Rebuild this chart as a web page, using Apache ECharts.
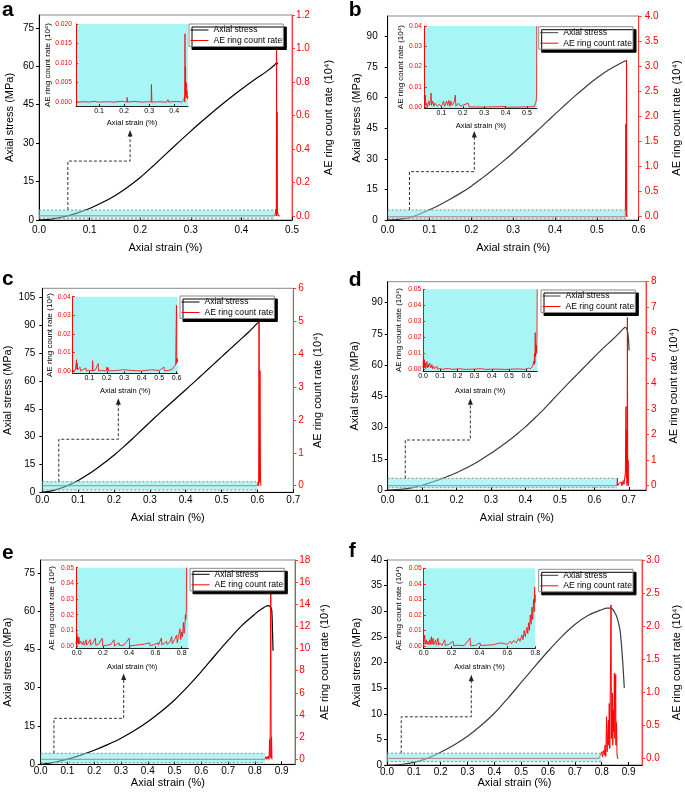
<!DOCTYPE html>
<html><head><meta charset="utf-8">
<script src="https://cdn.jsdelivr.net/npm/echarts@6/dist/echarts.min.js"></script>
<style>html,body{margin:0;padding:0;background:#fff}#c{width:685px;height:800px}</style>
</head><body><div id="c"></div>
<script>
// ---------------- DATA ----------------
// Panel a
const stressA = [[0,0],[0.025,0.4],[0.05,1.3],[0.075,2.7],[0.1,4.5],[0.125,6.8],[0.15,9.5],[0.175,12.8],[0.2,16.6],[0.225,21.0],[0.25,25.6],[0.275,30.2],[0.3,34.7],[0.325,39.0],[0.35,43.2],[0.375,47.2],[0.4,51.0],[0.425,54.6],[0.45,58.0],[0.465,60.4],[0.47,61.4],[0.472,60.8]];
const aeA = [[0,0],[0.2,0],[0.4,0],[0.466,0],[0.4685,0.04],[0.469,0],[0.4695,1.1],[0.47,0],[0.4705,0.62],[0.471,0.03],[0.473,0],[0.476,0]];
const insetA = [[0.008,0.0002],[0.02,0],[0.04,0.0001],[0.06,0],[0.08,0.0002],[0.1,0],[0.101,0.0004],[0.103,0],[0.13,0.0001],[0.16,0],[0.19,0.0002],[0.211,0],[0.212,0.0012],[0.214,0],[0.24,0.0002],[0.27,0],[0.29,0.0001],[0.308,0],[0.309,0.0045],[0.311,0],[0.34,0.0001],[0.37,0],[0.375,0.0006],[0.378,0],[0.41,0.0002],[0.43,0],[0.438,0.0005],[0.441,0.0012],[0.442,0],[0.443,0.0175],[0.4435,0.001],[0.445,0.009],[0.446,0.002],[0.448,0.005],[0.449,0.0012],[0.451,0.003],[0.453,0.0008],[0.455,0.0015]];
const strainTicksA = [0,0.1,0.2,0.3,0.4,0.5];
const stressTicksA = [0,15,30,45,60,75];
const aeTicksA = [0,0.2,0.4,0.6,0.8,1.0,1.2];
const insetStrainTicksA = [0.1,0.2,0.3,0.4];
const insetAeTicksA = [0,0.005,0.01,0.015,0.02];

// Panel b
const stressB = [[0,0],[0.025,0.3],[0.05,1.1],[0.075,2.8],[0.1,5.0],[0.125,7.5],[0.15,10.3],[0.175,13.3],[0.2,16.6],[0.225,20.4],[0.25,24.4],[0.275,28.6],[0.3,33.0],[0.325,37.6],[0.35,42.3],[0.375,47.1],[0.4,51.9],[0.425,56.6],[0.45,61.2],[0.475,65.6],[0.5,69.6],[0.525,73.2],[0.55,76.1],[0.565,77.7],[0.572,78.3]];
const aeB = [[0,0],[0.3,0],[0.568,0],[0.5695,1.85],[0.570,0],[0.571,3.1],[0.5715,0.05],[0.573,0]];
const insetB = [[0.022,0],[0.025,0.006],[0.027,0.001],[0.03,0.002],[0.035,0],[0.04,0.003],[0.045,0.001],[0.05,0.0045],[0.052,0.007],[0.054,0.001],[0.06,0.003],[0.065,0.0005],[0.07,0.002],[0.08,0.0005],[0.09,0.0015],[0.1,0.0003],[0.11,0.003],[0.115,0.0005],[0.125,0.003],[0.13,0.001],[0.135,0.0035],[0.14,0.0005],[0.145,0.003],[0.15,0.001],[0.16,0.0025],[0.165,0.006],[0.168,0.0005],[0.18,0.002],[0.19,0.0005],[0.2,0.001],[0.225,0.002],[0.23,0.0002],[0.3,0.0001],[0.4,0.0004],[0.41,0],[0.5,0.0002],[0.535,0.0003],[0.54,0.002],[0.543,0.003],[0.545,0.0055],[0.546,0.04],[0.547,0.04]];
const strainTicksB = [0,0.1,0.2,0.3,0.4,0.5,0.6];
const stressTicksB = [0,15,30,45,60,75,90];
const aeTicksB = [0,0.5,1,1.5,2,2.5,3,3.5,4];
const insetStrainTicksB = [0.1,0.2,0.3,0.4,0.5];
const insetAeTicksB = [0,0.01,0.02,0.03,0.04];

// Panel c
const stressC = [[0,0],[0.025,0.8],[0.05,2.1],[0.075,4.0],[0.1,6.4],[0.125,9.3],[0.15,12.6],[0.175,16.2],[0.2,20.0],[0.225,24.2],[0.25,28.6],[0.275,33.2],[0.3,37.8],[0.325,42.3],[0.35,46.7],[0.375,51.0],[0.4,55.3],[0.425,59.7],[0.45,64.1],[0.475,68.6],[0.5,73.0],[0.525,77.5],[0.55,81.9],[0.575,86.3],[0.59,89.2],[0.6,91.2],[0.607,92.3]];
const aeC = [[0,0],[0.3,0],[0.6,0],[0.602,0.12],[0.6035,0],[0.6045,5.1],[0.6055,0.1],[0.607,3.5],[0.6085,0.2],[0.61,0]];
const insetC = [[0.005,0],[0.02,0.0005],[0.026,0],[0.027,0.006],[0.029,0.001],[0.031,0.004],[0.033,0.0005],[0.04,0.001],[0.047,0.002],[0.05,0],[0.06,0.0005],[0.081,0.0015],[0.083,0],[0.1,0.0003],[0.118,0],[0.119,0.0055],[0.121,0],[0.135,0.0005],[0.151,0.004],[0.153,0],[0.17,0.0002],[0.198,0],[0.2,0.002],[0.203,0.0003],[0.208,0.0018],[0.21,0],[0.25,0.0002],[0.295,0.0006],[0.3,0],[0.35,0.0002],[0.4,0],[0.457,0.0006],[0.46,0],[0.5,0.0002],[0.528,0.002],[0.53,0],[0.56,0.0004],[0.575,0.0008],[0.581,0.002],[0.585,0.001],[0.59,0.0025],[0.594,0.003],[0.597,0.002],[0.599,0.0355],[0.6,0.004],[0.602,0.007],[0.604,0.005],[0.606,0.006]];
const strainTicksC = [0,0.1,0.2,0.3,0.4,0.5,0.6,0.7];
const stressTicksC = [0,15,30,45,60,75,90,105];
const aeTicksC = [0,1,2,3,4,5,6];
const insetStrainTicksC = [0.1,0.2,0.3,0.4,0.5,0.6];
const insetAeTicksC = [0,0.01,0.02,0.03,0.04];

// Panel d
const stressD = [[0,0],[0.025,0.15],[0.05,0.55],[0.075,1.3],[0.1,2.3],[0.125,3.6],[0.15,5.0],[0.175,6.6],[0.2,8.3],[0.225,10.3],[0.25,12.5],[0.275,15.0],[0.3,17.6],[0.325,20.5],[0.35,23.5],[0.375,26.8],[0.4,30.3],[0.425,34.2],[0.45,38.2],[0.475,42.6],[0.5,47.0],[0.525,51.3],[0.55,55.5],[0.575,59.7],[0.6,63.9],[0.625,68.0],[0.65,71.8],[0.675,75.8],[0.685,77.6],[0.69,78.1],[0.695,77.0],[0.698,74.5],[0.7,70],[0.701,67]];
const aeD = [[0,0],[0.3,0],[0.665,0],[0.667,0.3],[0.668,0],[0.672,0.1],[0.675,0.05],[0.678,0.15],[0.68,0],[0.684,0.2],[0.686,0.05],[0.69,0.5],[0.692,3.1],[0.693,0.3],[0.694,2.2],[0.695,0],[0.696,6.6],[0.697,0.1],[0.698,1.0],[0.699,0],[0.701,0]];
const insetD = [[0,0.001],[0.003,0.0095],[0.005,0.002],[0.008,0.006],[0.01,0.001],[0.0135,0.004],[0.016,0.0005],[0.02,0.003],[0.023,0.005],[0.026,0.001],[0.03,0.003],[0.033,0.0015],[0.038,0.004],[0.043,0.005],[0.046,0.001],[0.052,0.003],[0.055,0.0005],[0.062,0.002],[0.066,0.0003],[0.075,0.0015],[0.081,0.002],[0.085,0],[0.1,0.0008],[0.11,0.002],[0.113,0],[0.13,0.0004],[0.149,0.0006],[0.17,0],[0.207,0.0004],[0.25,0],[0.3,0.0002],[0.34,0.0005],[0.36,0],[0.42,0.0002],[0.48,0],[0.555,0.0003],[0.59,0],[0.613,0.0008],[0.625,0.0005],[0.637,0.002],[0.64,0.001],[0.643,0.005],[0.646,0.003],[0.648,0.01],[0.65,0.004],[0.652,0.023],[0.654,0.008],[0.656,0.012],[0.658,0.015],[0.66,0.01],[0.662,0.02],[0.6635,0.05]];
const strainTicksD = [0,0.1,0.2,0.3,0.4,0.5,0.6,0.7];
const stressTicksD = [0,15,30,45,60,75,90];
const aeTicksD = [0,1,2,3,4,5,6,7,8];
const insetStrainTicksD = [0,0.1,0.2,0.3,0.4,0.5,0.6];
const insetAeTicksD = [0,0.01,0.02,0.03,0.04,0.05];

// Panel e
const stressE = [[0,0],[0.05,0.8],[0.1,2.0],[0.15,3.6],[0.2,5.5],[0.25,7.7],[0.3,10.2],[0.35,13.2],[0.4,16.7],[0.45,20.7],[0.5,25.2],[0.55,30.5],[0.6,36.3],[0.65,42.5],[0.7,48.5],[0.75,54.2],[0.8,58.8],[0.825,60.8],[0.848,62.1],[0.858,61.6],[0.863,60.5],[0.866,52],[0.868,44.5]];
const aeE = [[0,0],[0.4,0],[0.838,0],[0.842,0.25],[0.845,0],[0.85,0.3],[0.853,0],[0.855,1.8],[0.857,0.2],[0.8595,16.2],[0.861,0.1],[0.8625,2],[0.864,0],[0.866,0]];
const insetE = [[-0.005,0.001],[0.002,0.008],[0.005,0.002],[0.009,0.006],[0.012,0.001],[0.018,0.0055],[0.022,0.0015],[0.03,0.003],[0.04,0.001],[0.052,0.003],[0.056,0.0005],[0.065,0.002],[0.072,0.004],[0.076,0.0005],[0.09,0.002],[0.103,0.004],[0.107,0.0005],[0.125,0.002],[0.142,0.005],[0.146,0.0005],[0.165,0.001],[0.194,0.005],[0.198,0],[0.23,0.0005],[0.26,0.001],[0.284,0.004],[0.288,0],[0.323,0.002],[0.326,0.0003],[0.36,0.0005],[0.4,0.005],[0.403,0],[0.45,0.0005],[0.516,0.0012],[0.52,0],[0.555,0.002],[0.558,0.0003],[0.59,0.0008],[0.619,0.002],[0.622,0.0005],[0.645,0.005],[0.648,0.001],[0.665,0.0015],[0.684,0.003],[0.69,0.001],[0.71,0.0025],[0.723,0.006],[0.728,0.0015],[0.745,0.004],[0.761,0.007],[0.766,0.002],[0.775,0.006],[0.787,0.011],[0.792,0.004],[0.8,0.009],[0.806,0.006],[0.813,0.015],[0.818,0.008],[0.823,0.012],[0.828,0.02],[0.831,0.017],[0.835,0.022],[0.837,0.05],[0.84,0.05]];
const strainTicksE = [0,0.1,0.2,0.3,0.4,0.5,0.6,0.7,0.8,0.9];
const stressTicksE = [0,15,30,45,60,75];
const aeTicksE = [0,2,4,6,8,10,12,14,16,18];
const insetStrainTicksE = [0,0.2,0.4,0.6,0.8];
const insetAeTicksE = [0,0.01,0.02,0.03,0.04,0.05];

// Panel f
const stressF = [[0,0],[0.05,0.1],[0.1,0.5],[0.15,1.3],[0.2,2.5],[0.25,3.9],[0.3,5.6],[0.35,7.7],[0.4,10.1],[0.45,13.0],[0.5,16.1],[0.55,19.2],[0.6,22.2],[0.65,25.0],[0.7,27.4],[0.75,29.2],[0.8,30.3],[0.82,30.6],[0.835,30.6],[0.848,29.8],[0.858,28.6],[0.868,26.3],[0.874,23.1],[0.879,19.5],[0.884,15.0]];
const aeF = [[0,0],[0.4,0],[0.79,0],[0.795,0.05],[0.80,0.1],[0.803,0.02],[0.806,0.12],[0.81,0.05],[0.8125,0.2],[0.815,0.03],[0.818,0.63],[0.82,0.1],[0.823,0.45],[0.825,0.58],[0.826,0.2],[0.828,0.83],[0.83,0.15],[0.8347,2.32],[0.836,0.3],[0.8395,0.99],[0.841,0.2],[0.843,0.73],[0.845,0.4],[0.847,1.29],[0.849,0.3],[0.852,1.27],[0.853,0.2],[0.855,0.54],[0.857,0.05],[0.859,0],[0.862,0]];
const insetF = [[0,0.001],[0.007,0.007],[0.01,0.001],[0.019,0.004],[0.023,0.001],[0.03,0.003],[0.036,0.0008],[0.043,0.004],[0.047,0.001],[0.055,0.006],[0.059,0.001],[0.067,0.005],[0.071,0.0008],[0.078,0.002],[0.086,0.004],[0.09,0.0005],[0.103,0.005],[0.107,0.0005],[0.115,0.002],[0.127,0.003],[0.131,0.0003],[0.151,0.004],[0.155,0.0003],[0.18,0.001],[0.211,0.003],[0.215,0.0002],[0.25,0.0005],[0.29,0.0002],[0.332,0.005],[0.336,0.0002],[0.37,0.0004],[0.404,0.002],[0.408,0.0003],[0.45,0.0005],[0.5,0.0008],[0.548,0.002],[0.552,0.0008],[0.58,0.0015],[0.6,0.001],[0.62,0.003],[0.63,0.0015],[0.645,0.0035],[0.656,0.004],[0.664,0.002],[0.68,0.005],[0.69,0.003],[0.704,0.007],[0.712,0.004],[0.72,0.01],[0.728,0.006],[0.74,0.012],[0.746,0.008],[0.752,0.015],[0.758,0.01],[0.764,0.02],[0.77,0.014],[0.776,0.025],[0.781,0.017],[0.788,0.03],[0.792,0.022],[0.795,0.038],[0.798,0.028],[0.8,0.033]];
const strainTicksF = [0,0.1,0.2,0.3,0.4,0.5,0.6,0.7,0.8,0.9];
const stressTicksF = [0,5,10,15,20,25,30,35,40];
const aeTicksF = [0,0.5,1,1.5,2,2.5,3];
const insetStrainTicksF = [0,0.2,0.4,0.6,0.8];
const insetAeTicksF = [0,0.01,0.02,0.03,0.04,0.05];

// zoom band (strain from, strain to, stress from, stress to) and dashed pointer (stress axis units)
const bandA = [0,0.465,0.65,3.9],  arrowA = [[0.057,3.9],[0.057,23],[0.18,23],[0.18,35.1]];
const bandB = [0,0.57,0.8,4.9],    arrowB = [[0.052,4.9],[0.052,23.7],[0.207,23.7],[0.207,43.6]];
const bandC = [0,0.6,1.2,5.7],     arrowC = [[0.046,5.7],[0.046,28.6],[0.212,28.6],[0.212,50.7]];
const bandD = [0,0.665,1.1,5.6],   arrowD = [[0.051,5.6],[0.051,24],[0.24,24],[0.24,44]];
const bandE = [0,0.838,0.65,4.3],  arrowE = [[0.0495,4.3],[0.0495,18],[0.31,18],[0.31,35.6]];
const bandF = [0,0.797,0.65,2.3],  arrowF = [[0.053,2.3],[0.053,9.4],[0.314,9.4],[0.314,17.6]];

const STRESS_NAME = 'Axial stress';
const AE_NAME = 'AE ring count rate';
const STRAIN_TITLE = 'Axial strain (%)';
const STRESS_TITLE = 'Axial stress (MPa)';
const AE_TITLE = 'AE ring count rate (10\u2074)';

// ---------------- LAYOUT ----------------
const FONT = '"Liberation Sans", Arial, Helvetica, sans-serif';
const panels = [
 {key:'a', letter:[2,0], main:{left:39,top:15,width:253,height:205}, inset:{left:76,top:24,width:112,height:82}, legend:[189,24],
  xMax:0.5, yMax:80, rMin:-0.025, rMax:1.2, insX:[0.008,0.455], insY:[-0.001,0.020],
  xLM:5, xNG:22.8, yLM:5, yNG:23.5, rLM:4, rNG:31.8, iyNG:23.7, iyLM:4, ixNG:12.9, ixLM:1.5,
  sc:'#000', rDec:1, iyDec:3,
  stress:stressA, ae:aeA, ins:insetA, xt:strainTicksA, yt:stressTicksA, rt:aeTicksA, ixt:insetStrainTicksA, iyt:insetAeTicksA, band:bandA, arrow:arrowA},
 {key:'b', letter:[348.7,0], main:{left:387.7,top:16,width:251,height:204}, inset:{left:424.7,top:26,width:112.3,height:82.3}, legend:[538.7,26.7],
  xMax:0.6, yMax:100, rMin:-0.065, rMax:4.0, insX:[0.022,0.547], insY:[-0.0005,0.04],
  xLM:5, xNG:22.5, yLM:10, yNG:25.2, rLM:6, rNG:32.8, iyNG:18.7, iyLM:2.7, ixNG:14, ixLM:1.5,
  sc:'#3c3c3c', rDec:1, iyDec:2,
  stress:stressB, ae:aeB, ins:insetB, xt:strainTicksB, yt:stressTicksB, rt:aeTicksB, ixt:insetStrainTicksB, iyt:insetAeTicksB, band:bandB, arrow:arrowB},
 {key:'c', letter:[2,269], main:{left:42.3,top:288.3,width:251,height:204}, inset:{left:72.7,top:296.7,width:105,height:76.6}, legend:[180,296],
  xMax:0.7, yMax:110, rMin:-0.2, rMax:6, insX:[0.005,0.606], insY:[-0.0013,0.04],
  xLM:2.7, xNG:20.5, yLM:7, yNG:28.5, rLM:5, rNG:19.5, iyNG:18.7, iyLM:2, ixNG:13.6, ixLM:1.5,
  sc:'#000', rDec:0, iyDec:2,
  stress:stressC, ae:aeC, ins:insetC, xt:strainTicksC, yt:stressTicksC, rt:aeTicksC, ixt:insetStrainTicksC, iyt:insetAeTicksC, band:bandC, arrow:arrowC},
 {key:'d', letter:[348.7,270], main:{left:387.7,top:281.7,width:258.3,height:208.3}, inset:{left:423,top:289.3,width:114.3,height:81.7}, legend:[541,290],
  xMax:0.75, yMax:100, rMin:-0.17, rMax:8, insX:[0,0.664], insY:[-0.001,0.05],
  xLM:5, xNG:22.8, yLM:5, yNG:26.9, rLM:5, rNG:22.2, iyNG:20.3, iyLM:1.7, ixNG:15.9, ixLM:1.5,
  sc:'#3c3c3c', rDec:0, iyDec:2,
  stress:stressD, ae:aeD, ins:insetD, xt:strainTicksD, yt:stressTicksD, rt:aeTicksD, ixt:insetStrainTicksD, iyt:insetAeTicksD, band:bandD, arrow:arrowD},
 {key:'e', letter:[2,543], main:{left:40.7,top:560,width:254.3,height:204.3}, inset:{left:76,top:567.7,width:112.3,height:80.6}, legend:[190,568.3],
  xMax:0.95, yMax:80, rMin:-0.45, rMax:18, insX:[-0.005,0.85], insY:[-0.0015,0.05],
  xLM:2, xNG:13.5, yLM:5.7, yNG:26.9, rLM:4.3, rNG:24.5, iyNG:20.3, iyLM:2, ixNG:14.6, ixLM:1.5,
  sc:'#000', rDec:0, iyDec:2,
  stress:stressE, ae:aeE, ins:insetE, xt:strainTicksE, yt:stressTicksE, rt:aeTicksE, ixt:insetStrainTicksE, iyt:insetAeTicksE, band:bandE, arrow:arrowE},
 {key:'f', letter:[348.7,541], main:{left:387,top:560,width:255,height:205}, inset:{left:423.7,top:568.3,width:111.6,height:80}, legend:[538.7,569.3],
  xMax:0.95, yMax:40, rMin:-0.1, rMax:3, insX:[0,0.8], insY:[-0.0015,0.05],
  xLM:2, xNG:12.8, yLM:5, yNG:24.5, rLM:4, rNG:29.5, iyNG:21, iyLM:2, ixNG:14.6, ixLM:1.5,
  sc:'#3c3c3c', rDec:1, iyDec:2,
  stress:stressF, ae:aeF, ins:insetF, xt:strainTicksF, yt:stressTicksF, rt:aeTicksF, ixt:insetStrainTicksF, iyt:insetAeTicksF, band:bandF, arrow:arrowF}
];

const RED = '#ff0000';
const grid = [], xAxis = [], yAxis = [], series = [], legend = [], title = [];

panels.forEach((p, i) => {
  const gm = 2*i, gi = 2*i+1;
  grid.push(Object.assign({show:true, borderColor:'#8a8a8a', borderWidth:1, backgroundColor:'transparent'}, p.main));
  grid.push(Object.assign({show:true, borderWidth:0, backgroundColor:'#a8f5f6'}, p.inset));

  xAxis.push({type:'value', gridIndex:gm, min:0, max:p.xMax, position:'bottom',
    axisLine:{onZero:false, lineStyle:{color:'#000', width:1}},
    axisTick:{inside:true, length:3, customValues:p.xt, lineStyle:{color:'#000'}},
    axisLabel:{customValues:p.xt, margin:p.xLM, fontSize:10, color:'#000', fontFamily:FONT, formatter:v=>v.toFixed(1)},
    splitLine:{show:false},
    name:STRAIN_TITLE, nameLocation:'middle', nameGap:p.xNG, nameTextStyle:{fontSize:11, color:'#000', fontFamily:FONT}});
  xAxis.push({type:'value', gridIndex:gi, min:p.insX[0], max:p.insX[1], position:'bottom',
    axisLine:{onZero:false, lineStyle:{color:'#222', width:1}},
    axisTick:{inside:true, length:2, customValues:p.ixt, lineStyle:{color:'#222'}},
    axisLabel:{customValues:p.ixt, margin:p.ixLM, fontSize:7, color:'#000', fontFamily:FONT, formatter:v=>v.toFixed(1)},
    splitLine:{show:false},
    name:STRAIN_TITLE, nameLocation:'middle', nameGap:p.ixNG, nameTextStyle:{fontSize:7.5, color:'#000', fontFamily:FONT}});

  yAxis.push({type:'value', gridIndex:gm, min:0, max:p.yMax, position:'left',
    axisLine:{show:true, onZero:false, lineStyle:{color:'#000', width:1}},
    axisTick:{show:true, inside:false, length:3, customValues:p.yt, lineStyle:{color:'#000'}},
    axisLabel:{customValues:p.yt, margin:p.yLM, fontSize:10, color:'#000', fontFamily:FONT, formatter:v=>String(v)},
    splitLine:{show:false},
    name:STRESS_TITLE, nameLocation:'middle', nameGap:p.yNG, nameTextStyle:{fontSize:11, color:'#000', fontFamily:FONT}});
  yAxis.push({type:'value', gridIndex:gm, min:p.rMin, max:p.rMax, position:'right',
    axisLine:{show:true, onZero:false, lineStyle:{color:'#ff3c3c', width:1}},
    axisTick:{show:true, inside:false, length:3, customValues:p.rt, lineStyle:{color:'#ff3c3c'}},
    axisLabel:{customValues:p.rt, margin:p.rLM, fontSize:10, color:RED, fontFamily:FONT, formatter:v=>v.toFixed(p.rDec)},
    splitLine:{show:false},
    name:AE_TITLE, nameLocation:'middle', nameGap:p.rNG, nameTextStyle:{fontSize:11, color:'#000', fontFamily:FONT}});
  yAxis.push({type:'value', gridIndex:gi, min:p.insY[0], max:p.insY[1], position:'left',
    axisLine:{show:true, onZero:false, lineStyle:{color:RED, width:1}},
    axisTick:{show:true, inside:true, length:2, customValues:p.iyt, lineStyle:{color:RED}},
    axisLabel:{customValues:p.iyt, margin:p.iyLM, fontSize:6.7, color:RED, fontFamily:FONT, formatter:v=>v.toFixed(p.iyDec)},
    splitLine:{show:false},
    name:AE_TITLE, nameLocation:'middle', nameGap:p.iyNG, nameTextStyle:{fontSize:8, color:'#000', fontFamily:FONT}});

  const ym = 3*i, yr = 3*i+1, yi = 3*i+2;
  series.push({type:'line', name:STRESS_NAME, xAxisIndex:gm, yAxisIndex:ym, data:p.stress, symbol:'none',
    smooth:0.3, lineStyle:{color:p.sc, width:1.2}, itemStyle:{color:p.sc}, z:2, silent:true});
  series.push({type:'line', name:AE_NAME, xAxisIndex:gm, yAxisIndex:yr, data:p.ae, symbol:'none',
    lineStyle:{color:RED, width:1}, itemStyle:{color:RED}, z:3, silent:true});
  series.push({type:'line', name:AE_NAME, xAxisIndex:gi, yAxisIndex:yi, data:p.ins, symbol:'none',
    lineStyle:{color:RED, width:0.8}, itemStyle:{color:RED}, z:3, silent:true});
  series.push({type:'custom', xAxisIndex:gm, yAxisIndex:ym, z:4, silent:true, clip:false, data:[p.band],
    renderItem:(params, api) => {
      const tl = api.coord([api.value(0), api.value(3)]);
      const br = api.coord([api.value(1), api.value(2)]);
      return {type:'group', children:[
        {type:'rect', shape:{x:tl[0], y:tl[1], width:br[0]-tl[0], height:br[1]-tl[1]}, style:{fill:'rgba(120,236,238,0.55)'}},
        {type:'line', shape:{x1:tl[0], y1:tl[1], x2:br[0], y2:tl[1]}, style:{stroke:'#8f8f8f', lineWidth:1, lineDash:[2,2]}},
        {type:'line', shape:{x1:tl[0], y1:br[1], x2:br[0], y2:br[1]}, style:{stroke:'#8f8f8f', lineWidth:1, lineDash:[2,2]}}
      ]};
    }});
  series.push({type:'custom', xAxisIndex:gm, yAxisIndex:ym, z:4, silent:true, clip:false, data:[[0]],
    renderItem:(params, api) => {
      const pts = p.arrow.map(q => api.coord(q));
      const tip = pts[pts.length-1];
      const line = pts.slice(0,-1).concat([[tip[0], tip[1]+5]]);
      return {type:'group', children:[
        {type:'polyline', shape:{points:line}, style:{stroke:'#333', lineWidth:1, lineDash:[3,2], fill:null}},
        {type:'polygon', shape:{points:[[tip[0],tip[1]],[tip[0]-2.5,tip[1]+6.5],[tip[0]+2.5,tip[1]+6.5]]}, style:{fill:'#222'}}
      ]};
    }});

  legend.push({left:p.legend[0], top:p.legend[1], orient:'vertical', align:'left',
    itemWidth:18, itemHeight:10.5, itemGap:1.5, padding:[1.5,1,1.5,1],
    borderColor:'#8a8a8a', borderWidth:1, backgroundColor:'#fff',
    shadowColor:'#000', shadowBlur:0, shadowOffsetX:3, shadowOffsetY:3,
    itemStyle:{opacity:0},
    selectedMode:false, textStyle:{fontSize:8.6, color:'#000', fontFamily:FONT},
    data:[{name:STRESS_NAME, lineStyle:{color:p.sc, width:1}, itemStyle:{opacity:0}}, {name:AE_NAME, lineStyle:{color:RED, width:1}, itemStyle:{opacity:0}}]});

  title.push({text:p.key, left:p.letter[0], top:p.letter[1], padding:0,
    textStyle:{fontSize:21, fontWeight:'bold', color:'#000', fontFamily:FONT}});
});

const chart = echarts.init(document.getElementById('c'), null, {renderer:'canvas'});
chart.setOption({animation:false, backgroundColor:'#fff', textStyle:{fontFamily:FONT},
  title, legend, grid, xAxis, yAxis, series});
</script></body></html>
